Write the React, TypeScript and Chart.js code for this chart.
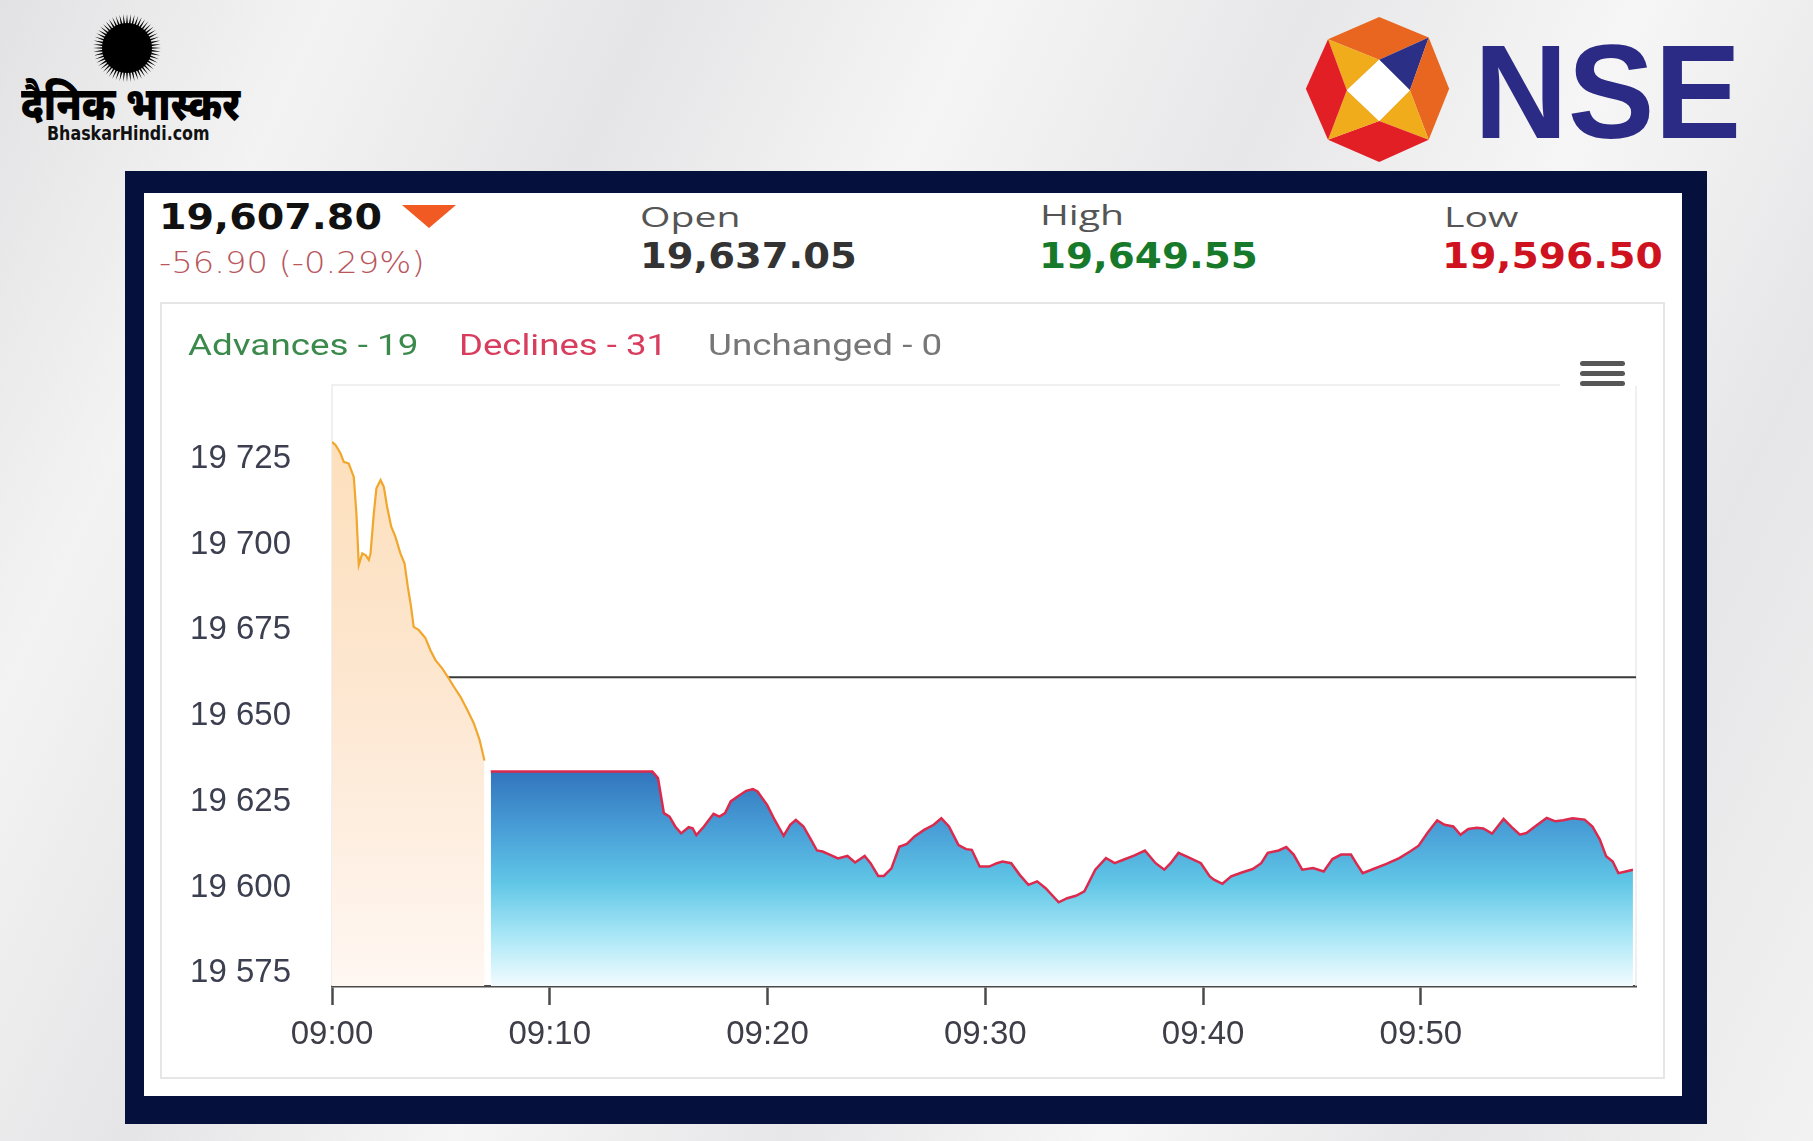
import React, { useEffect, useRef } from 'react';
import { Chart, registerables } from 'chart.js';

Chart.register(...registerables);

// ---------- data ----------
// minutes after 09:00
const preTimes = [0, 0.16, 0.39, 0.54, 0.77, 1.0, 1.12, 1.23, 1.39, 1.54, 1.69, 1.77, 1.92, 2.04, 2.23, 2.38, 2.53, 2.72, 2.91, 3.14, 3.33, 3.48, 3.63, 3.75, 3.98, 4.29, 4.52, 4.75, 5.06, 5.36, 5.59, 5.9, 6.21, 6.51, 6.78, 7.0];
const preValues = [19728.6, 19727.7, 19725.3, 19722.8, 19722.3, 19718.4, 19707.8, 19692.7, 19696.1, 19695.6, 19694.2, 19696.1, 19707.8, 19715.1, 19717.5, 19715.5, 19709.7, 19703.9, 19701.0, 19696.1, 19693.2, 19686.4, 19680.6, 19674.7, 19673.8, 19671.4, 19667.9, 19665.0, 19662.6, 19659.7, 19657.3, 19654.3, 19650.5, 19646.6, 19641.7, 19635.7];

const mktTimes = [7.29, 14.71, 14.97, 15.24, 15.5, 15.76, 16.03, 16.38, 16.56, 16.73, 17.08, 17.52, 17.79, 18.05, 18.31, 18.66, 19.02, 19.33, 19.54, 19.98, 20.33, 20.74, 21.04, 21.3, 21.65, 22.0, 22.27, 22.53, 22.88, 23.23, 23.67, 24.02, 24.46, 24.73, 25.08, 25.34, 25.69, 26.05, 26.4, 26.75, 27.19, 27.63, 27.98, 28.33, 28.77, 29.12, 29.38, 29.74, 30.18, 30.53, 30.79, 31.19, 31.58, 31.98, 32.38, 32.77, 33.37, 33.76, 34.16, 34.55, 35.05, 35.54, 35.94, 36.34, 36.83, 37.33, 37.82, 38.22, 38.51, 38.87, 39.41, 39.9, 40.3, 40.5, 40.89, 41.29, 41.78, 42.28, 42.67, 42.97, 43.47, 43.82, 44.16, 44.55, 45.05, 45.54, 45.94, 46.34, 46.79, 47.03, 47.33, 47.82, 48.42, 49.01, 49.5, 49.9, 50.3, 50.75, 51.09, 51.49, 51.82, 52.18, 52.57, 52.87, 53.27, 53.8, 54.16, 54.55, 54.85, 55.35, 55.78, 56.18, 56.53, 56.97, 57.52, 57.88, 58.22, 58.51, 58.81, 59.07, 59.41, 59.74];
const mktValues = [19632.5, 19632.5, 19630.6, 19620.4, 19619.4, 19616.5, 19614.5, 19616.3, 19616.0, 19614.0, 19616.5, 19620.2, 19619.4, 19620.4, 19623.8, 19625.4, 19626.9, 19627.4, 19626.7, 19622.8, 19618.4, 19613.8, 19617.0, 19618.4, 19616.5, 19612.6, 19609.5, 19609.2, 19608.2, 19607.2, 19607.9, 19606.0, 19607.9, 19605.8, 19602.1, 19602.1, 19604.3, 19610.6, 19611.4, 19613.6, 19615.5, 19617.0, 19618.9, 19616.5, 19611.1, 19609.9, 19609.7, 19604.8, 19604.8, 19605.8, 19606.3, 19605.8, 19602.4, 19599.5, 19600.5, 19598.5, 19594.4, 19595.6, 19596.3, 19597.6, 19603.9, 19607.3, 19605.8, 19606.8, 19608.0, 19609.5, 19605.8, 19603.9, 19605.8, 19608.8, 19607.3, 19605.8, 19602.0, 19601.0, 19599.8, 19602.0, 19603.1, 19604.1, 19605.8, 19608.8, 19609.5, 19610.5, 19608.3, 19603.9, 19604.4, 19603.4, 19607.0, 19608.3, 19608.3, 19605.8, 19602.9, 19604.1, 19605.6, 19607.3, 19609.2, 19610.9, 19614.6, 19618.3, 19617.0, 19616.5, 19614.1, 19615.8, 19616.1, 19615.9, 19614.4, 19618.7, 19616.4, 19614.1, 19614.6, 19617.0, 19619.0, 19618.0, 19618.3, 19618.9, 19618.5, 19616.5, 19612.7, 19607.8, 19606.3, 19602.9, 19603.4, 19603.9];

const refTimes = [0, 59.88];
const refValues = [19660, 19660];

const xTickValues = [0, 10, 20, 30, 40, 50];
const yTickValues = [19575, 19600, 19625, 19650, 19675, 19700, 19725];
const xMin = 0;
const xMax = 59.88;
const yMin = 19570;
const yMax = 19745.2;

const lastPrice = '19,607.80';
const change = '-56.90 (-0.29%)';
const openLabel = 'Open';
const openValue = '19,637.05';
const highLabel = 'High';
const highValue = '19,649.55';
const lowLabel = 'Low';
const lowValue = '19,596.50';
const advances = 'Advances - 19';
const declines = 'Declines - 31';
const unchanged = 'Unchanged - 0';

const zip = (xs: number[], ys: number[]) => xs.map((x, i) => ({ x, y: ys[i] }));
const fmtY = (v: number) => String(v).replace(/\B(?=(\d{3})+(?!\d))/g, ' ');
const fmtX = (v: number) => '09:' + String(Math.round(v)).padStart(2, '0');

type TP = { x: number; y: number; s: number; f: string; w?: number; c: string; sx?: number; ls?: number; children: any };
function T({ x, y, s, f, w = 400, c, sx = 1, ls = 0, children }: TP) {
  return (
    <div
      style={{
        position: 'absolute', left: x, top: y, fontSize: s, fontFamily: f, fontWeight: w, color: c,
        lineHeight: 1, whiteSpace: 'nowrap', transform: `scaleX(${sx})`, transformOrigin: 'left top', letterSpacing: ls,
      }}
    >
      {children}
    </div>
  );
}

function Sun() {
  const rays: string[] = [];
  const n = 56;
  for (let i = 0; i < n; i++) {
    const a = (i / n) * Math.PI * 2;
    const da = Math.PI / n * 0.9;
    const r0 = 22, r1 = 34;
    const p1 = [Math.cos(a - da) * r0, Math.sin(a - da) * r0];
    const p2 = [Math.cos(a) * r1, Math.sin(a) * r1];
    const p3 = [Math.cos(a + da) * r0, Math.sin(a + da) * r0];
    rays.push(`${p1[0]},${p1[1]} ${p2[0]},${p2[1]} ${p3[0]},${p3[1]}`);
  }
  return (
    <svg width={72} height={72} viewBox="-36 -36 72 72" style={{ position: 'absolute', left: 91, top: 12 }}>
      {rays.map((p, i) => <polygon key={i} points={p} fill="#000" />)}
      <circle cx={0} cy={0} r={25} fill="#000" />
    </svg>
  );
}

function NseMark() {
  return (
    <svg width={147} height={145} viewBox="75 55 420 425" style={{ position: 'absolute', left: 1304, top: 17 }}>
      <polygon points="140,120 290,55 435,115 290,180" fill="#e8661f" />
      <polygon points="140,120 290,180 195,270" fill="#f1ac1b" />
      <polygon points="290,180 435,115 380,270" fill="#2c2f86" />
      <polygon points="435,115 495,265 435,415 380,270" fill="#e8661f" />
      <polygon points="380,270 435,415 290,360" fill="#f1ac1b" />
      <polygon points="435,415 290,480 140,415 290,360" fill="#e31f26" />
      <polygon points="140,415 290,360 195,270" fill="#f1ac1b" />
      <polygon points="140,120 195,270 140,415 75,265" fill="#e31f26" />
      <polygon points="290,180 380,270 290,360 195,270" fill="#ffffff" />
    </svg>
  );
}

export default function App() {
  const ref = useRef<HTMLCanvasElement>(null);

  useEffect(() => {
    const canvas = ref.current;
    if (!canvas) return;

    const plotBorder = {
      id: 'plotBorder',
      beforeDatasetsDraw(chart: any) {
        const { ctx, chartArea: a } = chart;
        ctx.save();
        ctx.strokeStyle = '#ececec';
        ctx.lineWidth = 1.5;
        ctx.beginPath();
        ctx.moveTo(a.left, a.bottom);
        ctx.lineTo(a.left, a.top);
        ctx.lineTo(a.right, a.top);
        ctx.lineTo(a.right, a.bottom);
        ctx.stroke();
        ctx.restore();
      },
    };

    const orangeFill = (ctx: any) => {
      const { chart } = ctx;
      const a = chart.chartArea;
      if (!a) return '#fde6cc';
      const top = chart.scales.y.getPixelForValue(19730);
      const g = chart.ctx.createLinearGradient(0, top, 0, a.bottom);
      g.addColorStop(0, '#fddfbb');
      g.addColorStop(0.5, '#fde8d3');
      g.addColorStop(1, '#fff7f2');
      return g;
    };
    const blueFill = (ctx: any) => {
      const { chart } = ctx;
      const a = chart.chartArea;
      if (!a) return '#5fb0dc';
      const top = chart.scales.y.getPixelForValue(19633);
      const g = chart.ctx.createLinearGradient(0, top, 0, a.bottom);
      g.addColorStop(0, '#3173bc');
      g.addColorStop(0.29, '#4aa1d8');
      g.addColorStop(0.52, '#60c6e6');
      g.addColorStop(0.76, '#a7e6f6');
      g.addColorStop(1, '#f2fcff');
      return g;
    };

    const chart = new Chart(canvas, {
      type: 'line',
      data: {
        datasets: [
          {
            data: zip(mktTimes, mktValues),
            borderColor: '#dc2a4e',
            borderWidth: 2.5,
            backgroundColor: blueFill,
            fill: 'start',
            pointRadius: 0,
            tension: 0,
            order: 0,
          },
          {
            data: zip(preTimes, preValues),
            borderColor: '#f1a62c',
            borderWidth: 2.2,
            backgroundColor: orangeFill,
            fill: 'start',
            pointRadius: 0,
            tension: 0,
            order: 1,
          },
          {
            data: zip(refTimes, refValues),
            borderColor: '#3a3a3a',
            borderWidth: 2,
            fill: false,
            pointRadius: 0,
            order: 2,
          },
        ],
      },
      options: {
        animation: false,
        responsive: false,
        devicePixelRatio: 1,
        layout: { padding: { left: 0, right: 29, top: 82, bottom: 0 } },
        plugins: { legend: { display: false }, tooltip: { enabled: false } },
        scales: {
          x: {
            type: 'linear',
            min: xMin,
            max: xMax,
            afterFit: (s: any) => { s.height = 93; },
            afterBuildTicks: (s: any) => { s.ticks = xTickValues.map((v) => ({ value: v })); },
            grid: { display: true, drawOnChartArea: false, drawTicks: true, tickLength: 19, tickColor: '#4a4a4a', tickWidth: 2.5 },
            border: { display: true, color: '#4a4a4a', width: 2.5 },
            ticks: {
              padding: 10,
              color: '#3e3e48',
              font: { family: '"Liberation Sans", Arial, sans-serif', size: 33 },
              callback: (v: any) => fmtX(Number(v)),
              maxRotation: 0,
              autoSkip: false,
            },
          },
          y: {
            type: 'linear',
            min: yMin,
            max: yMax,
            afterFit: (s: any) => { s.width = 172; },
            afterBuildTicks: (s: any) => { s.ticks = yTickValues.map((v) => ({ value: v })); },
            grid: { display: false, drawTicks: false },
            border: { display: false },
            ticks: {
              padding: 41,
              labelOffset: 4.5,
              color: '#3c3f50',
              font: { family: '"Liberation Sans", Arial, sans-serif', size: 33 },
              callback: (v: any) => fmtY(Number(v)),
              autoSkip: false,
            },
          },
        },
      },
      plugins: [plotBorder],
    } as any);

    return () => chart.destroy();
  }, []);

  const dj = '"DejaVu Sans", sans-serif';
  const os = '"Open Sans", sans-serif';
  const rb = 'Roboto, sans-serif';

  return (
    <div
      style={{
        position: 'fixed', left: 0, top: 0, width: 1813, height: 1141, overflow: 'hidden',
        background: 'linear-gradient(115deg, #e2e2e4 0%, #f3f3f3 14%, #e5e5e7 28%, #f5f5f5 42%, #e7e7e9 56%, #f6f6f6 70%, #e6e6e8 84%, #f2f2f2 100%)',
      }}
    >
      {/* Bhaskar logo */}
      <Sun />
      <T x={21} y={86} s={46} f={'"Noto Sans Devanagari", "Noto Sans", sans-serif'} w={900} c="#000" sx={0.85}>दैनिक भास्कर</T>
      <T x={47} y={124} s={19} f={'"DejaVu Sans Condensed", "DejaVu Sans", sans-serif'} w={700} c="#111" sx={0.93}>BhaskarHindi.com</T>

      {/* NSE logo */}
      <NseMark />
      <T x={1474} y={25} s={134} f={'"Liberation Sans", Arial, sans-serif'} w={700} c="#2b2a85" sx={0.97}>NSE</T>

      {/* frame */}
      <div style={{ position: 'absolute', left: 125, top: 171, width: 1582, height: 953, background: '#06103c' }} />
      <div style={{ position: 'absolute', left: 144, top: 193, width: 1538, height: 903, background: '#ffffff' }} />

      {/* header */}
      <T x={159} y={199} s={36} f={dj} w={700} c="#111" sx={1.1}>{lastPrice}</T>
      <svg width={56} height={26} style={{ position: 'absolute', left: 401, top: 204 }}>
        <polygon points="1,1 55,1 28,24" fill="#f15a22" />
      </svg>
      <T x={159} y={247} s={31} f={dj} w={300} c="#b8565c" sx={1.09}>{change}</T>

      <T x={640} y={203} s={27} f={os} c="#555" sx={1.45}>{openLabel}</T>
      <T x={640} y={239} s={35} f={dj} w={700} c="#333" sx={1.1}>{openValue}</T>
      <T x={1040} y={201} s={27} f={os} c="#555" sx={1.45}>{highLabel}</T>
      <T x={1039} y={239} s={35} f={dj} w={700} c="#17792a" sx={1.11}>{highValue}</T>
      <T x={1444} y={203} s={27} f={os} c="#555" sx={1.45}>{lowLabel}</T>
      <T x={1442} y={239} s={35} f={dj} w={700} c="#cf1220" sx={1.12}>{lowValue}</T>

      {/* chart panel */}
      <div style={{ position: 'absolute', left: 160, top: 302, width: 1505, height: 777, border: '2px solid #e6e6e6', boxSizing: 'border-box' }} />
      <canvas ref={ref} width={1505} height={776} style={{ position: 'absolute', left: 160, top: 303, width: 1505, height: 776 }} />

      {/* legend text */}
      <T x={188} y={331} s={29} f={rb} c="#3b8a4c" sx={1.27}>{advances}</T>
      <T x={459} y={331} s={29} f={rb} c="#d83d5e" sx={1.26}>{declines}</T>
      <T x={708} y={331} s={29} f={rb} c="#777" sx={1.27}>{unchanged}</T>

      {/* menu button */}
      <div style={{ position: 'absolute', left: 1560, top: 345, width: 82, height: 41, background: '#fff' }}>
        {[18, 28, 38].map((t, i) => (
          <div key={i} style={{ position: 'absolute', left: 20, top: t - 2.5, width: 45, height: 5, borderRadius: 2.5, background: '#575757' }} />
        ))}
      </div>
    </div>
  );
}
